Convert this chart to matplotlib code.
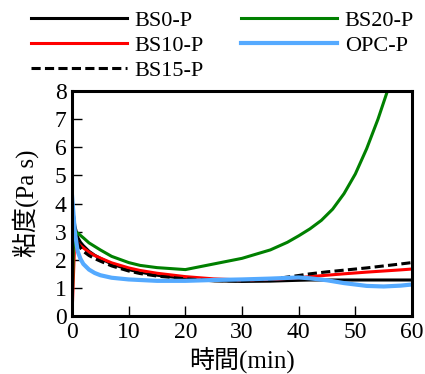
import matplotlib.pyplot as plt
import numpy as np

plt.rcParams['font.family'] = ['Liberation Serif', 'Noto Sans CJK JP']

# time (min)
t = [0, 0.5, 1, 1.5, 2, 3, 4, 5, 7, 10, 12, 15, 20, 25, 30, 35, 40, 42, 45, 48, 50, 52, 55, 58, 60]

# viscosity (Pa s)
bs0 = [4.0, 3.2, 2.8, 2.62, 2.5, 2.3, 2.16, 2.05, 1.85, 1.65, 1.56, 1.45, 1.33, 1.25, 1.23, 1.24, 1.27, 1.28, 1.28, 1.28, 1.28, 1.28, 1.28, 1.28, 1.28]
bs10 = [0, 2.8, 2.6, 2.5, 2.42, 2.27, 2.15, 2.06, 1.89, 1.71, 1.62, 1.52, 1.4, 1.32, 1.28, 1.3, 1.36, 1.4, 1.45, 1.5, 1.53, 1.56, 1.6, 1.64, 1.67]
bs15 = [3.6, 3.0, 2.6, 2.42, 2.3, 2.15, 2.04, 1.95, 1.78, 1.6, 1.51, 1.42, 1.32, 1.26, 1.25, 1.3, 1.44, 1.5, 1.57, 1.63, 1.67, 1.71, 1.78, 1.85, 1.9]
opc = [4.3, 3.0, 2.3, 2.03, 1.85, 1.65, 1.53, 1.45, 1.36, 1.3, 1.28, 1.25, 1.25, 1.28, 1.3, 1.33, 1.37, 1.34, 1.27, 1.17, 1.12, 1.07, 1.05, 1.08, 1.12]

t20 = [0, 0.3, 1, 2, 3, 5, 7, 10, 12, 15, 20, 25, 30, 35, 38, 40, 42, 44, 46, 48, 50, 52, 54, 56]
bs20 = [0, 3.0, 2.95, 2.78, 2.6, 2.35, 2.12, 1.9, 1.8, 1.72, 1.65, 1.85, 2.05, 2.35, 2.62, 2.85, 3.1, 3.4, 3.8, 4.35, 5.05, 5.95, 7.0, 8.2]

fig = plt.figure(figsize=(4.25, 3.74), dpi=100)
ax = fig.add_axes([72/425, 58/374, 340/425, 225/374])

ax.plot(t, bs0, color='black', lw=2.2, label='BS0-P')
ax.plot(t, bs10, color='red', lw=2.2, label='BS10-P')
ax.plot(t, bs15, color='black', lw=2.2, ls=(0, (3, 1.4)), label='BS15-P')
ax.plot(t20, bs20, color='green', lw=2.2, label='BS20-P')
ax.plot(t, opc, color='#55aaff', lw=3, label='OPC-P')

ax.set_xlim(0, 60)
ax.set_ylim(0, 8)
ax.set_xticks(range(0, 61, 10))
ax.set_yticks(range(0, 9))
ax.tick_params(direction='in', length=7, width=1, labelsize=17, pad=4)
for s in ax.spines.values():
    s.set_linewidth(2.2)

ax.set_xlabel('時間(min)', fontsize=18, labelpad=3)
ax.set_ylabel('粘度(Pa s)', fontsize=18, labelpad=11)

fig.legend(loc='upper left', bbox_to_anchor=(31/425, 1 - 10/374), ncol=2, frameon=False,
           fontsize=16, handlelength=4.3, handletextpad=0.35, columnspacing=1.7,
           labelspacing=0.2, borderpad=0, borderaxespad=0)

fig.savefig('out.png', dpi=100)
